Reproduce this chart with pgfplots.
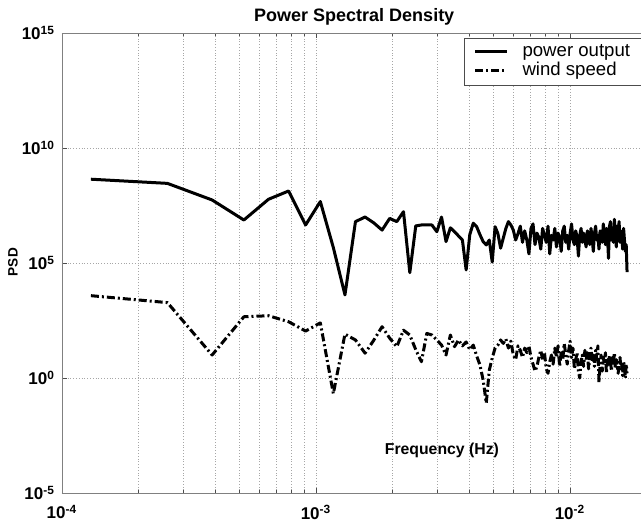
\documentclass[border=0pt]{standalone}
\usepackage{fontspec}
\setmainfont{Liberation Sans}
\usepackage{pgfplots}
\pgfplotsset{compat=1.18}
\begin{document}
\begin{tikzpicture}
\useasboundingbox (0,0) rectangle (320.5pt,263.5pt);
\begin{axis}[
  at={(31pt,17pt)}, anchor=south west,
  scale only axis, width=292.25pt, height=230pt,
  xmode=log, ymode=log,
  xmin=1e-4, xmax=2e-2, ymin=1e-5, ymax=1e15,
  xtick={1e-4,1e-3,1e-2},
  xticklabels={10\textsuperscript{-4},10\textsuperscript{-3},10\textsuperscript{-2}},
  minor xtick={2e-4,3e-4,4e-4,5e-4,6e-4,7e-4,8e-4,9e-4,2e-3,3e-3,4e-3,5e-3,6e-3,7e-3,8e-3,9e-3,2e-2},
  ytick={1e-5,1,1e5,1e10,1e15},
  yticklabels={10\textsuperscript{-5},10\textsuperscript{0},10\textsuperscript{5},10\textsuperscript{10},10\textsuperscript{15}},
  yminorticks=false,
  tick label style={font=\fontsize{8.5}{10}\selectfont\bfseries},
  xticklabel style={yshift=-2.5pt},
  xmajorgrids, xminorgrids, ymajorgrids,
  grid style={densely dotted, black!35, line width=0.4pt},
  minor grid style={densely dotted, black!35, line width=0.4pt},
  axis line style={black!50},
  major tick length=2.5pt, minor tick length=1.5pt,
  tick style={black!70},
  title={Power Spectral Density},
  title style={at={(0.5,1)}, anchor=base, yshift=-0.25pt, font=\fontsize{9}{11}\selectfont\bfseries},
  xlabel={Frequency (Hz)},
  xlabel style={at={(axis description cs:0.650,0.0935)}, anchor=center, font=\fontsize{7.9}{9}\selectfont\bfseries},
  ylabel={PSD},
  ylabel style={at={(axis description cs:-0.0838,0.502)}, anchor=center, font=\fontsize{6.8}{8}\selectfont\bfseries},
  legend style={at={(1,1)}, anchor=north east, xshift=-1.5pt, yshift=-2.5pt,
    draw=black!70, font=\fontsize{9.3}{11}\selectfont, legend cell align=left,
    inner xsep=4.5pt, inner ysep=1pt, row sep=-2.5pt},
  legend image code/.code={\draw[#1] (0pt,0pt) -- (16pt,0pt); \path (21pt,0pt);},
]
\addplot[black, line width=1.5pt, line join=round] table {
x y
0.13e-3 4.4e8
0.26e-3 2.9e8
0.39e-3 5.5e7
0.52e-3 7.4e6
0.65e-3 5.9e7
0.78e-3 1.35e8
0.91e-3 4.5e6
1.04e-3 4.7e7
1.17e-3 4.7e5
1.30e-3 4.1e3
1.43e-3 6.3e6
1.56e-3 1.0e7
1.69e-3 5.5e6
1.82e-3 2.7e6
1.95e-3 8.7e6
2.08e-3 6.3e6
2.21e-3 1.7e7
2.34e-3 3.8e4
2.47e-3 4.1e6
2.60e-3 4.5e6
2.73e-3 4.5e6
2.86e-3 4.5e6
2.99e-3 2.3e6
3.12e-3 1.0e7
3.25e-3 8.5e5
3.38e-3 3.4e6
3.51e-3 2.3e6
3.64e-3 1.5e6
3.77e-3 1.0e6
3.90e-3 5.0e4
4.03e-3 1.7e6
4.16e-3 5.4e6
4.29e-3 3.8e6
4.42e-3 1.7e6
4.55e-3 8.5e5
4.68e-3 6.1e5
4.81e-3 1.0e6
4.94e-3 1.1e5
5.07e-3 3.8e6
5.20e-3 1.9e6
5.33e-3 4.4e5
5.46e-3 1.2e6
5.59e-3 3.2e6
5.72e-3 6.3e6
5.85e-3 4.5e6
5.98e-3 2.7e6
6.11e-3 1.0e6
6.24e-3 1.9e6
6.37e-3 4.0e6
6.50e-3 7.9e5
6.63e-3 2.5e6
6.76e-3 1.0e6
6.89e-3 2.5e5
7.02e-3 3.2e6
7.15e-3 5.0e6
7.28e-3 6.3e5
7.41e-3 2.0e6
7.54e-3 1.3e6
7.67e-3 4.0e5
7.80e-3 3.2e6
7.93e-3 1.6e6
8.06e-3 7.9e5
8.19e-3 4.0e6
8.32e-3 2.5e5
8.45e-3 1.6e6
8.58e-3 1.0e6
8.71e-3 3.2e6
8.84e-3 5.0e5
8.97e-3 2.0e6
9.10e-3 1.3e6
9.23e-3 3.2e5
9.36e-3 2.5e6
9.49e-3 4.0e6
9.62e-3 7.9e5
9.75e-3 1.6e6
9.88e-3 4.0e5
10.01e-3 2.0e6
10.14e-3 5.0e6
10.27e-3 1.0e6
10.40e-3 6.3e5
10.53e-3 2.5e6
10.66e-3 1.3e6
10.79e-3 2.0e5
10.92e-3 1.6e6
11.05e-3 3.2e6
11.18e-3 7.9e5
11.31e-3 2.0e6
11.44e-3 1.0e6
11.57e-3 5.0e5
11.70e-3 2.5e6
11.83e-3 1.6e6
11.96e-3 6.3e5
12.09e-3 3.2e6
12.22e-3 1.3e6
12.35e-3 3.2e5
12.48e-3 2.0e6
12.61e-3 4.0e6
12.74e-3 1.0e6
12.87e-3 1.6e6
13.00e-3 4.0e5
13.13e-3 2.5e6
13.26e-3 1.3e6
13.39e-3 7.9e5
13.52e-3 5.0e6
13.65e-3 2.0e6
13.78e-3 6.3e5
13.91e-3 3.2e6
14.04e-3 1.6e6
14.17e-3 1.6e5
14.30e-3 4.0e6
14.43e-3 6.3e6
14.56e-3 1.0e6
14.69e-3 2.5e6
14.82e-3 7.9e5
14.95e-3 7.9e6
15.08e-3 2.0e6
15.21e-3 5.0e5
15.34e-3 4.0e6
15.47e-3 1.6e6
15.60e-3 6.3e6
15.73e-3 7.9e5
15.86e-3 2.5e6
15.99e-3 1.3e6
16.12e-3 4.0e5
16.25e-3 3.2e6
16.38e-3 1.0e6
16.51e-3 3.2e5
16.64e-3 6.3e5
16.77e-3 4.0e4
};
\addlegendentry{power output}
\addplot[black, line width=1.5pt, line join=round, dash pattern=on 4pt off 1.5pt on 1pt off 1.5pt] table {
x y
0.13e-3 3.8e3
0.26e-3 1.9e3
0.39e-3 10
0.52e-3 4.6e2
0.65e-3 5.1e2
0.78e-3 2.8e2
0.91e-3 1.1e2
1.04e-3 2.5e2
1.17e-3 0.21
1.30e-3 81
1.43e-3 45
1.56e-3 12
1.69e-3 45
1.82e-3 170
1.95e-3 54
2.08e-3 23
2.21e-3 120
2.34e-3 74
2.47e-3 17
2.60e-3 5.1
2.73e-3 87
2.86e-3 74
2.99e-3 45
3.12e-3 27
3.25e-3 10
3.38e-3 74
3.51e-3 23
3.64e-3 45
3.77e-3 25
3.90e-3 37
4.03e-3 17
4.16e-3 27
4.29e-3 9.1
4.42e-3 3.7
4.55e-3 0.81
4.68e-3 0.081
4.81e-3 2.2
4.94e-3 7.4
5.07e-3 20
5.20e-3 27
5.33e-3 45
5.46e-3 32
5.59e-3 50
5.72e-3 20
5.85e-3 40
5.98e-3 10
6.11e-3 6.3
6.24e-3 25
6.37e-3 16
6.50e-3 7.9
6.63e-3 20
6.76e-3 12.6
6.89e-3 25
7.02e-3 7.9
7.15e-3 4.0
7.28e-3 2.0
7.41e-3 3.2
7.54e-3 7.9
7.67e-3 16
7.80e-3 6.3
7.93e-3 12.6
8.06e-3 2.5
8.19e-3 1.6
8.32e-3 5.0
8.45e-3 10
8.58e-3 4.0
8.71e-3 20
8.84e-3 7.9
8.97e-3 25
9.10e-3 3.2
9.23e-3 12.6
9.36e-3 6.3
9.49e-3 32
9.62e-3 10
9.75e-3 4.0
9.88e-3 16
10.01e-3 40
10.14e-3 7.9
10.27e-3 20
10.40e-3 2.5
10.53e-3 6.3
10.66e-3 12.6
10.79e-3 2.0
10.92e-3 1.0
11.05e-3 5.0
11.18e-3 10
11.31e-3 3.2
11.44e-3 16
11.57e-3 6.3
11.70e-3 12.6
11.83e-3 2.5
11.96e-3 7.9
12.09e-3 20
12.22e-3 5.0
12.35e-3 10
12.48e-3 3.2
12.61e-3 16
12.74e-3 6.3
12.87e-3 25
13.00e-3 0.63
13.13e-3 4.0
13.26e-3 10
13.39e-3 2.0
13.52e-3 7.9
13.65e-3 4.0
13.78e-3 12.6
13.91e-3 1.6
14.04e-3 6.3
14.17e-3 3.2
14.30e-3 10
14.43e-3 5.0
14.56e-3 2.0
14.69e-3 7.9
14.82e-3 4.0
14.95e-3 12.6
15.08e-3 2.5
15.21e-3 6.3
15.34e-3 3.2
15.47e-3 1.6
15.60e-3 5.0
15.73e-3 7.9
15.86e-3 2.5
15.99e-3 4.0
16.12e-3 1.26
16.25e-3 5.0
16.38e-3 3.2
16.51e-3 1.0
16.64e-3 4.0
16.77e-3 1.6
};
\addlegendentry{wind speed}
\end{axis}
\end{tikzpicture}
\end{document}
